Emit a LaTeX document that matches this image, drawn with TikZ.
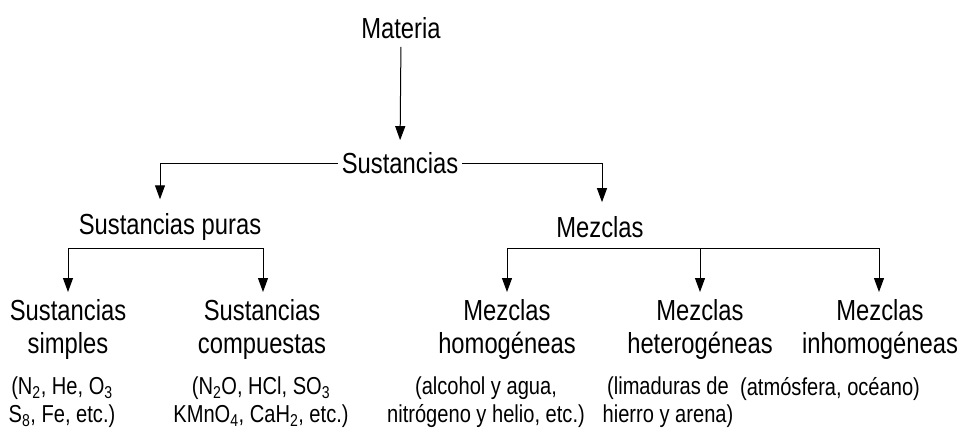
\documentclass[tikz,border=0pt]{standalone}
\usepackage{fontspec}
\setmainfont{Liberation Sans}[FakeStretch=0.82]
\usetikzlibrary{arrows.meta}

\tikzset{
  concept/.style={font=\fontsize{29}{33}\selectfont, align=center, inner sep=0pt},
  example/.style={font=\fontsize{24.5}{27.5}\selectfont, align=center, inner sep=0pt},
  link/.style={line width=1pt},
  arrow/.style={link, -{Triangle[width=10pt,length=14pt]}},
}

\newcommand{\sub}[1]{\textsubscript{#1}}

\begin{document}
\begin{tikzpicture}[x=1pt,y=-1pt]
  \useasboundingbox (0,0) rectangle (975,440);

  % top of the tree
  \node [concept] (materia) at (401,28) {Materia};
  \node [concept] (sust) at (400,163) {Sustancias};
  \node [concept] (puras) at (170,227) {Sustancias puras};
  \node [concept] (mezclas) at (600,227) {Mezclas};

  \draw [arrow,shorten <=8pt,shorten >=12pt] (materia.south) -- (sust.north);
  \draw [arrow,shorten <=4pt,shorten >=14pt] (sust.west) -| ([xshift=-10pt]puras.north);
  \draw [arrow,shorten <=4pt,shorten >=14pt] (sust.east) -| ([xshift=2pt]mezclas.north);

  % sustancias puras
  \node [concept,anchor=north] (simples) at (68,299) {Sustancias\\simples};
  \node [concept,anchor=north] (compuestas) at (262,299) {Sustancias\\compuestas};
  \node [example,anchor=north] (exsimples) at (62,377)
    {(N\sub{2}, He, O\sub{3}\\S\sub{8}, Fe, etc.)};
  \node [example,anchor=north] (excompuestas) at (261,377)
    {(N\sub{2}O, HCl, SO\sub{3}\\KMnO\sub{4}, CaH\sub{2}, etc.)};

  \coordinate (pl) at (68,248);
  \coordinate (pr) at (263,248);
  \draw [link] (pl) -- (pr);
  \draw [arrow,shorten >=7pt] (pl) -- (simples.north);
  \draw [arrow,shorten >=7pt] (pr) -- (pr |- compuestas.north);

  % mezclas
  \node [concept,anchor=north] (homog) at (507,299) {Mezclas\\homogéneas};
  \node [concept,anchor=north] (heterog) at (700,299) {Mezclas\\heterogéneas};
  \node [concept,anchor=north] (inhomog) at (880,299) {Mezclas\\inhomogéneas};
  \node [example,anchor=north] (exhomog) at (486,377)
    {(alcohol y agua,\\nitrógeno y helio, etc.)};
  \node [example,anchor=north] (exheterog) at (668,377)
    {(limaduras de\\hierro y arena)};
  \node [example,anchor=north] (exinhomog) at (830,377)
    {(atmósfera, océano)};

  \coordinate (ml) at (507,248);
  \coordinate (mm) at (700,248);
  \coordinate (mr) at (879,248);
  \draw [link] (ml) -- (mr);
  \draw [arrow,shorten >=7pt] (ml) -- (homog.north);
  \draw [arrow,shorten >=7pt] (mm) -- (heterog.north);
  \draw [arrow,shorten >=7pt] (mr) -- (mr |- inhomog.north);
\end{tikzpicture}
\end{document}
